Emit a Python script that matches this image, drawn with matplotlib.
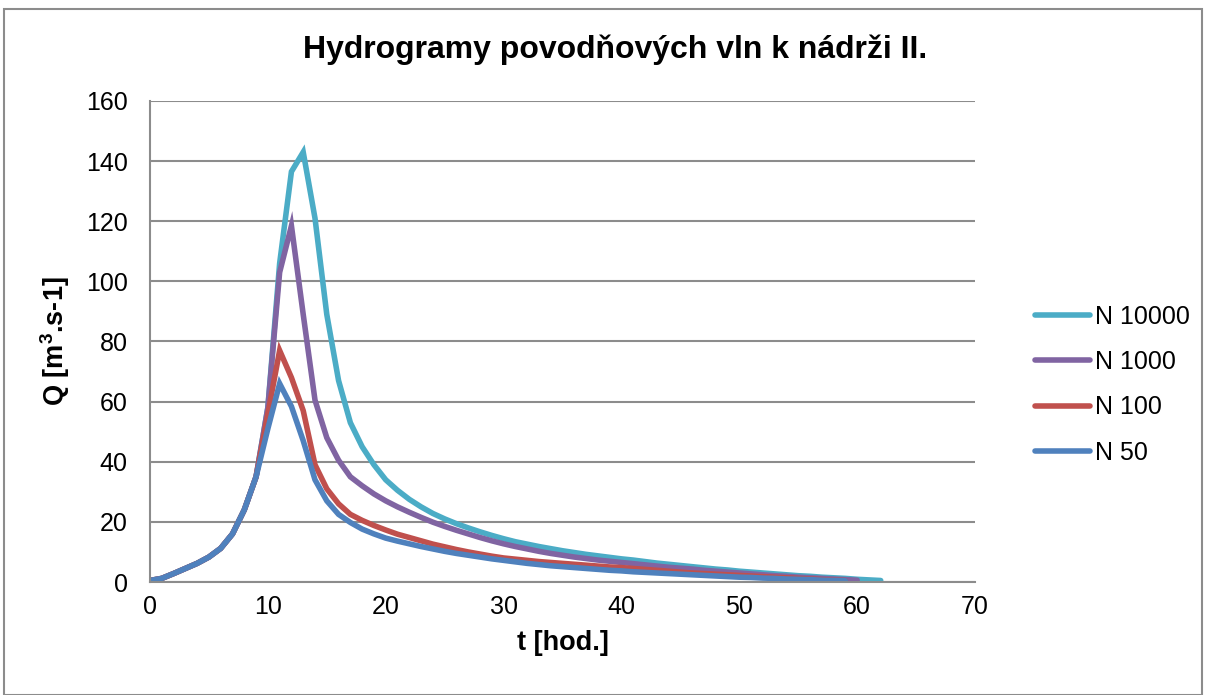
import matplotlib
matplotlib.use('Agg')
import matplotlib.pyplot as plt
from matplotlib.patches import Rectangle

plt.rcParams['font.family'] = ['Liberation Sans', 'DejaVu Sans']
plt.rcParams['mathtext.fontset'] = 'custom'
plt.rcParams['mathtext.bf'] = 'Liberation Sans:bold'
plt.rcParams['mathtext.rm'] = 'Liberation Sans:bold'

# shared rising limb (t = 0..9 h)
rise = [0.5, 1.2, 2.8, 4.5, 6.2, 8.3, 11.2, 16, 24, 35]

q_10000 = rise + [58, 106, 136.5, 143, 121, 89, 67, 53, 45, 39,
                  34, 30.5, 27.5, 25, 22.8, 21, 19.4, 18, 16.7, 15.5,
                  14.4, 13.4, 12.6, 11.8, 11.1, 10.4, 9.8, 9.2, 8.7, 8.2,
                  7.7, 7.3, 6.8, 6.3, 5.9, 5.5, 5.1, 4.7, 4.3, 4.0,
                  3.6, 3.3, 3.0, 2.7, 2.4, 2.1, 1.9, 1.6, 1.4, 1.2,
                  0.9, 0.7, 0.5]
q_1000 = rise + [58, 103, 118.5, 89, 60.5, 48, 40.5, 35, 32, 29.3,
                 27, 25, 23.2, 21.5, 19.9, 18.5, 17.2, 16.0, 14.8, 13.7,
                 12.7, 11.8, 11.0, 10.2, 9.5, 8.9, 8.3, 7.8, 7.3, 6.9,
                 6.5, 6.1, 5.7, 5.3, 4.9, 4.6, 4.3, 3.9, 3.6, 3.3,
                 3.0, 2.7, 2.4, 2.1, 1.9, 1.6, 1.4, 1.2, 1.0, 0.8,
                 0.6]
q_100 = rise + [56, 77, 68, 57, 39, 31, 26, 22.5, 20.5, 18.8,
                17.3, 15.9, 14.8, 13.7, 12.6, 11.7, 10.8, 10.0, 9.3, 8.6,
                8.0, 7.6, 7.2, 6.8, 6.5, 6.2, 5.9, 5.6, 5.3, 5.0,
                4.8, 4.5, 4.2, 3.9, 3.6, 3.3, 3.0, 2.8, 2.6, 2.4,
                2.2, 2.0, 1.8, 1.6, 1.4, 1.2, 1.0, 0.8, 0.6, 0.5]
q_50 = rise + [51, 66, 58.4, 47, 34, 27, 22.5, 19.8, 17.6, 16,
               14.6, 13.6, 12.7, 11.8, 11, 10.2, 9.5, 8.9, 8.3, 7.7,
               7.2, 6.7, 6.2, 5.8, 5.4, 5.1, 4.8, 4.5, 4.2, 3.9,
               3.7, 3.4, 3.2, 3.0, 2.8, 2.6, 2.4, 2.2, 2.0, 1.8,
               1.6, 1.5, 1.3, 1.2, 1.0, 0.9, 0.8, 0.6, 0.5, 0.4]

series = [('N 10000', q_10000, '#4BACC6'),
          ('N 1000', q_1000, '#8064A2'),
          ('N 100', q_100, '#C0504D'),
          ('N 50', q_50, '#4F81BD')]

fig = plt.figure(figsize=(12.05, 6.95), dpi=100)
ax = fig.add_axes([150/1205, 1 - 582/695, 825/1205, 481/695])

for name, q, c in series:
    ax.plot(range(len(q)), q, color=c, lw=4.0, label=name,
            solid_capstyle='round', solid_joinstyle='miter')

ax.set_xlim(0, 70)
ax.set_ylim(0, 160)
ax.set_xticks(range(0, 71, 10))
ax.set_yticks(range(0, 161, 20))
ax.grid(axis='y', color='#8c8c8c', lw=1.5)
ax.set_axisbelow(True)
for s in ['top', 'right']:
    ax.spines[s].set_visible(False)
for s in ['left', 'bottom']:
    ax.spines[s].set_color('#8c8c8c')
    ax.spines[s].set_linewidth(1.5)
ax.tick_params(axis='y', length=0, pad=16, labelsize=18)
ax.tick_params(axis='x', length=0, pad=9, labelsize=18)

ax.set_xlabel('t [hod.]', fontsize=19.5, fontweight='bold', labelpad=8)
ax.set_ylabel(r'Q [m$^{3}$.s-1]', fontsize=19.5, fontweight='bold', labelpad=10)
fig.suptitle('Hydrogramy povodňových vln k nádrži II.', x=615/1205, y=1 - 50/695,
             va='center', fontsize=23, fontweight='bold')

ax.legend(loc='center left', bbox_to_anchor=(1.045, 0.41), frameon=False,
          fontsize=18, handlelength=2.2, handletextpad=0.2, labelspacing=0.85)

fig.patches.append(Rectangle((4/1205, 0), 1198/1205, 1 - 9/695, transform=fig.transFigure,
                             fill=False, edgecolor='#8c8c8c', lw=1.5))

fig.savefig('out.png', dpi=100)
